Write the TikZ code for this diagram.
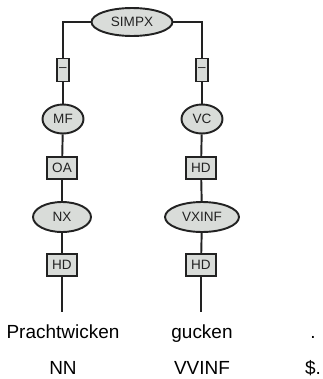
\documentclass[tikz,border=0pt]{standalone}
\usepackage{fontspec}
\setmainfont{Liberation Sans}
\usepackage{tikz}
\usetikzlibrary{shapes.geometric, positioning}
\definecolor{NodeFill}{RGB}{217, 220, 217}
\definecolor{InkGray}{RGB}{34, 34, 34}
\tikzset{
  cat/.style={ellipse, draw=InkGray, fill=NodeFill, line width=1.1pt,
    inner sep=0pt, text=InkGray, font=\fontsize{7.7}{9}\selectfont},
  edgelab/.style={rectangle, draw=InkGray, fill=NodeFill, line width=1.1pt,
    inner sep=0pt, minimum width=0.6cm, minimum height=0.44cm,
    text=InkGray, font=\fontsize{7.7}{9}\selectfont},
  word/.style={anchor=base, inner xsep=0pt, inner ysep=0.24cm,
    text height=0.28cm, text depth=0pt, text=black,
    font=\fontsize{10.8}{12}\selectfont},
  tag/.style={anchor=base, inner sep=0pt, text=black,
    font=\fontsize{10.8}{12}\selectfont},
  link/.style={draw=InkGray, line width=1.1pt},
}

\begin{document}
\begin{tikzpicture}[x=0.02cm, y=-0.02cm]
  \useasboundingbox (0,0) rectangle (323,379);
  % top node and edge labels
  \node[cat, minimum width=1.62cm, minimum height=0.56cm] (simpx) at (132,22) {SIMPX};
  \node[edgelab, minimum width=0.24cm, minimum height=0.46cm] (dashL) at (63,70) {--};
  \node[edgelab, minimum width=0.24cm, minimum height=0.46cm] (dashR) at (202,70) {--};
  \node[cat, minimum width=0.82cm, minimum height=0.58cm] (mf) at (63,119) {MF};
  \node[cat, minimum width=0.82cm, minimum height=0.58cm] (vc) at (202,119) {VC};
  \node[edgelab] (oa) at (62,168) {OA};
  \node[edgelab] (hdVC) at (201,168) {HD};
  \node[cat, minimum width=1.16cm, minimum height=0.6cm] (nx) at (62,217) {NX};
  \node[cat, minimum width=1.48cm, minimum height=0.6cm] (vxinf) at (202,217) {VXINF};
  \node[edgelab] (hdNX) at (62,265) {HD};
  \node[edgelab] (hdVX) at (201,265) {HD};
  % terminals
  \node[word] (w1) at (63,338) {Prachtwicken};
  \node[word] (w2) at (202,338) {gucken};
  \node[word] (w3) at (313,338) {.};
  \node[tag] (t1) at (63,374) {NN};
  \node[tag] (t2) at (202,374) {VVINF};
  \node[tag] (t3) at (313,374) {\$.};
  % connectors
  \draw[link] (simpx.west) -| (dashL.north);
  \draw[link] (simpx.east) -| (dashR.north);
  \draw[link] (dashL) -- (mf);
  \draw[link] (dashR) -- (vc);
  \draw[link] (mf) -- (oa);
  \draw[link] (vc) -- (hdVC);
  \draw[link] (oa) -- (nx);
  \draw[link] (hdVC) -- (vxinf);
  \draw[link] (nx) -- (hdNX);
  \draw[link] (vxinf) -- (hdVX);
  \draw[link] (hdNX) -- (hdNX |- w1.north);
  \draw[link] (hdVX) -- (hdVX |- w2.north);
\end{tikzpicture}
\end{document}
